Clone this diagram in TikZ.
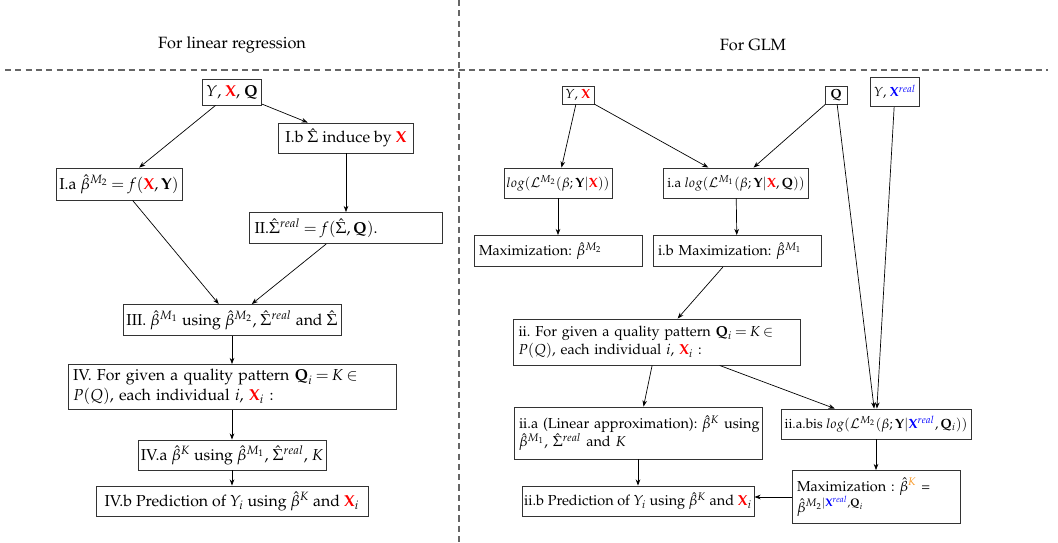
\documentclass[tikz,border=0pt]{standalone}
\usepackage[T1]{fontenc}
\usepackage{mathpazo}
\usetikzlibrary{arrows.meta}
\newdimen\pxu \pxu=0.65pt
\newcommand{\RX}{{\color{red}\mathbf{X}}}
\newcommand{\BX}{{\color{blue}\mathbf{X}^{real}}}
\definecolor{kor}{RGB}{247,148,30}
\frenchspacing
\thickmuskip=3.5mu plus 2mu
\begin{document}
\begin{tikzpicture}[x=0.65pt,y=-0.65pt,
  box/.style={draw=black!80,line width=0.6pt,inner sep=0pt,align=center},
  wh/.style 2 args={minimum width=#1\pxu,minimum height=#2\pxu},
  lt/.style 2 args={minimum height=#2\pxu,text width=#1\pxu,inner xsep=5\pxu,align=left},
  lf/.style={font=\fontsize{10.3}{12.6}\selectfont},
  rf/.style={font=\fontsize{9.4}{11.6}\selectfont},
  mathy/.style={font=\fontsize{8.7}{10.6}\selectfont},
  tiny8/.style={font=\fontsize{8.6}{10}\selectfont},
  head/.style={font=\fontsize{10.6}{13}\selectfont},
  arr/.style={-{Stealth[length=4pt,width=3pt]},line width=0.45pt},
  sepline/.style={black!60,line width=0.9pt,dash pattern=on 4pt off 2.7pt}]
\useasboundingbox (0,0) rectangle (1058,542);
% separators
\coordinate (h1) at (5,70);
\coordinate (h2) at (1048,70);
\coordinate (v1) at (459,0);
\coordinate (v2) at (459,542);
\draw[sepline] (h1) -- (h2);
\draw[sepline] (v1) -- (v2);
\node[head] (tl) at (232,45) {For linear regression};
\node[head] (tr) at (753,45) {For GLM};
% left part
\begin{scope}[every node/.append style={lf}]
\node[box,wh={59}{26}] (yxq) at (232,92) {$Y$, $\RX$, $\mathbf{Q}$};
\node[box,wh={135}{30}] (Ib) at (346,138) {I.b $\hat\Sigma$ induce by $\RX$};
\node[box,wh={126}{32}] (Ia) at (119,184) {I.a $\hat\beta^{M_2}=f(\RX,\mathbf{Y})$};
\node[box,lt={183}{31}] (II) at (346,228) {II.$\hat\Sigma^{real}=f(\hat\Sigma,\mathbf{Q})$.};
\node[box,wh={218}{31}] (III) at (232,320) {III. $\hat\beta^{M_1}$ using $\hat\beta^{M_2}$, $\hat\Sigma^{real}$ and $\hat\Sigma$};
\node[box,lt={318}{45}] (IV) at (232,387) {\mbox{IV. For given a quality pattern $\mathbf{Q}_i=K\in$}\\\mbox{$P(Q)$, each individual $i$, $\RX_i$ :}};
\node[box,wh={188}{30}] (IVa) at (232,455) {IV.a $\hat\beta^K$ using $\hat\beta^{M_1}$, $\hat\Sigma^{real}$, $K$};
\node[box,wh={272}{30}] (IVb) at (232,501) {IV.b Prediction of $Y_i$ using $\hat\beta^K$ and $\RX_i$};
\end{scope}
\draw[arr] (yxq) -- (Ia);
\draw[arr] (yxq) -- (Ib);
\draw[arr] (Ib) -- (II);
\draw[arr] (Ia) -- (III);
\draw[arr] (II) -- (III);
\draw[arr] (III) -- (IV);
\draw[arr] (IV) -- (IVa);
\draw[arr] (IVa) -- (IVb);
% right part
\begin{scope}[every node/.append style={rf}]
\node[box,tiny8,wh={32}{18}] (yx) at (578,95) {$Y$, $\RX$};
\node[box,tiny8,wh={22}{18}] (Q) at (836,95) {$\mathbf{Q}$};
\node[box,tiny8,wh={49}{29}] (yxr) at (895,92) {$Y$, $\BX$};
\node[box,mathy,wh={108}{30}] (lm2) at (558,183) {$log(\mathcal{L}^{M_2}(\beta;\mathbf{Y}|\RX))$};
\node[box,mathy,wh={145}{30}] (ia) at (736,183) {i.a $log(\mathcal{L}^{M_1}(\beta;\mathbf{Y}|\RX,\mathbf{Q}))$};
\node[box,lt={158}{31}] (mm2) at (558,251) {Maximization: $\hat\beta^{M_2}$};
\node[box,lt={158}{31}] (ib) at (737,251) {i.b Maximization: $\hat\beta^{M_1}$};
\node[box,lt={277}{46}] (ii) at (657,342) {\mbox{ii. For given a quality pattern $\mathbf{Q}_i=K\in$}\\\mbox{$P(Q)$, each individual $i$, $\RX_i$ :}};
\node[box,lt={238}{52}] (iia) at (638,433) {\mbox{ii.a (Linear approximation): $\hat\beta^K$ using}\\\mbox{$\hat\beta^{M_1}$, $\hat\Sigma^{real}$ and $K$}};
\node[box,mathy,wh={190}{30}] (iib2) at (876,424) {ii.a.bis $log(\mathcal{L}^{M_2}(\beta;\mathbf{Y}|\BX,\mathbf{Q}_i))$};
\node[box,lt={158}{53}] (mk) at (876,497) {\mbox{Maximization : $\hat\beta^{\color{kor}K}$ =}\\\mbox{$\hat\beta^{M_2|\BX,\mathbf{Q}_i}$}};
\node[box,wh={232}{30}] (iib) at (638,501) {ii.b Prediction of $Y_i$ using $\hat\beta^K$ and $\RX_i$};
\end{scope}
\draw[arr] (yx) -- (lm2);
\draw[arr] (yx) -- (ia);
\draw[arr] (Q) -- (ia);
\draw[arr] (Q) -- (iib2);
\draw[arr] (yxr) -- (iib2);
\draw[arr] (lm2) -- (mm2);
\draw[arr] (ia) -- (ib);
\draw[arr] (ib) -- (ii);
\draw[arr] (ii) -- (iia);
\draw[arr] (ii) -- (iib2);
\draw[arr] (iia) -- (iib);
\draw[arr] (iib2) -- (mk);
\draw[arr] (mk.west) -- (mk.west -| iib.east);
\end{tikzpicture}
\end{document}
